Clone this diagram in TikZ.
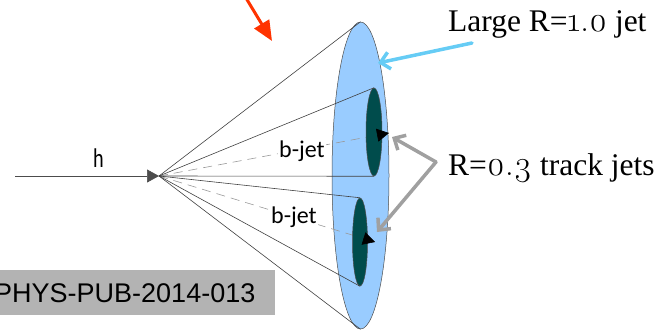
\documentclass[tikz,border=0pt]{standalone}
\usepackage{fontspec}
\setmainfont{Liberation Serif}
\newfontfamily\calib{Carlito}
\newfontfamily\arial{Liberation Sans}
\newfontfamily\osfont{Latin Modern Roman}[Numbers=OldStyle,Scale=1.1]
\usetikzlibrary{shapes.geometric,arrows.meta,calc}
\newcommand{\osf}[1]{{\osfont #1}}

\definecolor{jetblue}{RGB}{153,204,255}
\definecolor{trackteal}{RGB}{0,76,76}
\definecolor{callblue}{RGB}{102,204,245}
\definecolor{callgray}{RGB}{160,160,160}
\definecolor{pointred}{RGB}{255,51,0}
\definecolor{boxgray}{RGB}{179,179,179}

\begin{document}
\begin{tikzpicture}[x=1pt,y=1pt,
  cone/.style={draw=black!75, line width=0.6pt},
  axisline/.style={draw=black!40, dash pattern=on 9pt off 6pt, line width=0.6pt},
  tri/.style={-{Triangle[length=12pt,width=13pt]}},
  bjet/.style={font=\calib\fontsize{24}{24}\selectfont, inner sep=1pt, fill=white, anchor=base west},
  serif/.style={font=\fontsize{31.5}{31.5}\selectfont, inner sep=0pt, anchor=base west},
  callout/.style={line width=3.5pt, line cap=round, -{Straight Barb[length=9pt,width=17pt]}},
  jetdisc/.style={ellipse, draw=black!70, line width=0.5pt, inner sep=0pt}
]
\useasboundingbox (0,0) rectangle (656,-330);

% large-R jet cross section
\node[jetdisc, fill=jetblue, minimum width=57pt, minimum height=307pt] (large) at (360.5,-175.5) {};

% decay vertex and incoming Higgs
\coordinate (vtx) at (159,-176);
\coordinate (hin) at (15,-176);
\coordinate (tipA) at (389,-133);
\coordinate (tipB) at (375,-242);

% track-jet disc centres
\path (374,-132) coordinate (cA) (360,-242) coordinate (cB);

% jet axes
\draw[axisline] (vtx) -- (tipA);
\draw[axisline] (vtx) -- (tipB);

% b-jet labels
\node[bjet] (labA) at (278,-157) {b-jet};
\node[bjet] (labB) at (270,-223) {b-jet};

% track jets
\node[jetdisc, fill=trackteal, minimum width=16pt, minimum height=88pt] (tjA) at (cA) {};
\node[jetdisc, fill=trackteal, minimum width=15pt, minimum height=88pt] (tjB) at (cB) {};

% cone edges
\draw[cone] (vtx) -- (large.north);
\draw[cone] (vtx) -- (large.south);
\draw[cone] (vtx) -- (tjA.north);
\draw[cone] (vtx) -- (tjA.south);
\draw[cone] (vtx) -- (tjB.north);
\draw[cone] (vtx) -- (tjB.south);

% axis arrowheads
\draw[cone, black, tri] ($(vtx)!0.95!(tipA)$) -- (tipA);
\draw[cone, black, tri] ($(vtx)!0.95!(tipB)$) -- (tipB);

% incoming Higgs line
\draw[cone, black!70, tri] (hin) -- (vtx);
\node[font=\calib\fontsize{27}{27}\selectfont, inner sep=0pt, anchor=base west] (hlab) at (93,-167) {\scalebox{0.75}[1]{h}};

% captions
\node[serif] (lbig) at (448,-31) {Large R=\osf{1.0} jet};
\node[serif] (ltrk) at (448,-175) {R=\osf{0.3} track jets};

% callout arrows
\coordinate (bluetail) at (472,-43);
\coordinate (bluetip) at (378,-63);
\draw[callout, callblue] (bluetail) -- (bluetip);

\coordinate (fork) at (436,-162);
\coordinate (grayA) at (392,-137);
\coordinate (grayB) at (377,-232);
\draw[callout, callgray] (fork) -- (grayA);
\draw[callout, callgray] (fork) -- (grayB);

\coordinate (redtail) at (246,2);
\coordinate (redtip) at (272,-41);
\draw[pointred, line width=3pt, -{Triangle[length=20pt,width=17pt]}] (redtail) -- (redtip);

% reference tag
\node[fill=boxgray, anchor=north west, inner xsep=0pt, text width=281pt, minimum height=45pt, align=left,
      font=\arial\fontsize{27}{27}\selectfont] (ref) at (-6,-270) {PHYS-PUB-2014-013};
\end{tikzpicture}
\end{document}
